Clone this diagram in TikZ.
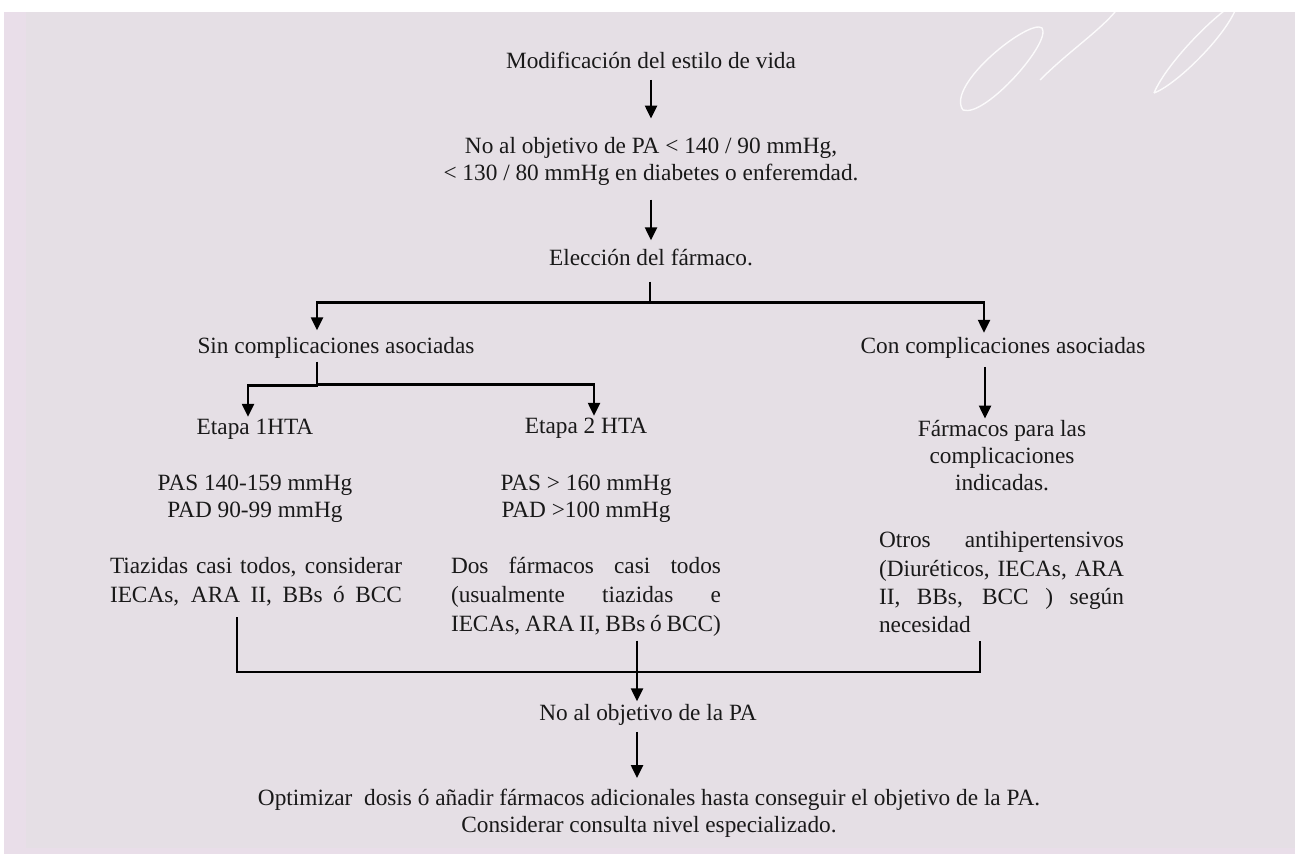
\documentclass[tikz,border=0pt]{standalone}
\usepackage{fontspec}
\setmainfont{Liberation Serif}
\usetikzlibrary{arrows.meta}
\definecolor{bgc}{RGB}{229,223,229}
\definecolor{bgp}{RGB}{233,222,233}
\definecolor{ink}{RGB}{25,25,25}
\newcommand\tkfa{\fontsize{23.3}{27.5}\selectfont}
\newcommand\tkfc{\fontsize{23.3}{27}\selectfont}
\newcommand\tkfb{\fontsize{23.3}{29}\selectfont}
\newcommand\tkfd{\fontsize{23.3}{28.3}\selectfont}
\begin{document}
\begin{tikzpicture}[x=1pt,y=-1pt,
  txt/.style={inner sep=0pt, outer sep=0pt, text=ink, align=center, font=\tkfa},
  txtc/.style={txt, font=\tkfc},
  blk/.style={inner sep=0pt, outer sep=0pt, text=ink, align=left, font=\tkfb},
  blkd/.style={blk, font=\tkfd},
  ln/.style={line width=2.5pt, draw=black, line join=miter},
  arr/.style={ln, -{Triangle[length=13pt,width=12pt]}},
  flour/.style={draw=white, line width=1.4pt, opacity=0.85}]
\useasboundingbox (0,0) rectangle (1302,854);
\fill[white] (0,0) rectangle (1302,854);
\fill[bgc] (4,12) rectangle (1295,854);
\fill[bgp] (4,12) rectangle (26,854);
\fill[bgp] (4,848) rectangle (1295,854);
% decorative flourish
\draw[flour] (963,110) .. controls (945,85) and (1030,18) .. (1042,28) .. controls (1052,42) and (985,118) .. (963,110);
\draw[flour] (1040,80) .. controls (1068,52) and (1098,32) .. (1115,12);
\draw[flour] (1154,93) .. controls (1168,60) and (1222,8) .. (1238,2) .. controls (1232,30) and (1178,84) .. (1154,93);

% nodes
\node[txt] (mod) at (651,63) {\strut Modificación del estilo de vida};
\node[txtc] (noobj) at (651,161.5) {\strut No al objetivo de PA < 140 / 90 mmHg,\\\strut < 130 / 80 mmHg en diabetes o enferemdad.};
\node[txt] (elec) at (651,260) {\strut Elección del fármaco.};
\node[txt] (sin) at (336,348) {\strut Sin complicaciones asociadas};
\node[txt] (con) at (1003,348) {\strut Con complicaciones asociadas};
\node[txt] (e1) at (255,429) {\strut Etapa 1HTA};
\node[txt] (e2) at (586,428) {\strut Etapa 2 HTA};
\node[txtc] (farm) at (1002,458) {\strut Fármacos para las\\\strut complicaciones\\\strut indicadas.};
\node[txtc] (pas1) at (255,498.5) {\strut PAS 140-159 mmHg\\\strut PAD 90-99 mmHg};
\node[txtc] (pas2) at (586,498.5) {\strut PAS > 160 mmHg\\\strut PAD >100 mmHg};
\node[blk] (tia) at (256,582) {\makebox[292pt][s]{\strut Tiazidas casi todos, considerar}\\\makebox[292pt][s]{\strut IECAs, ARA II, BBs ó BCC}};
\node[blk] (dos) at (586,597) {\makebox[270pt][s]{\strut Dos fármacos casi todos}\\\makebox[270pt][s]{\strut (usualmente tiazidas e}\\\makebox[270pt][s]{\strut IECAs, ARA II, BBs ó BCC)}};
\node[blkd] (otros) at (1001.5,584.5) {\makebox[245pt][s]{\strut Otros antihipertensivos}\\\makebox[245pt][s]{\strut (Diuréticos, IECAs, ARA}\\\makebox[245pt][s]{\strut II, BBs, BCC ) según}\\\makebox[245pt][l]{\strut necesidad}};
\node[txt] (noobjpa) at (648,715) {\strut No al objetivo de la PA};
\node[txtc] (opt) at (649,813.5) {\strut Optimizar\ \ dosis ó añadir fármacos adicionales hasta conseguir el objetivo de la PA.\\\strut Considerar consulta nivel especializado.};
\coordinate (join) at (637,672);

% connectors
\draw[arr] ([yshift=-3pt]mod.south) -- ([yshift=16pt]noobj.north);
\draw[arr] ([yshift=-11pt]noobj.south) -- ([yshift=6pt]elec.north);
\draw[arr] ([xshift=-1pt,yshift=-8pt]elec.south) |- ([xshift=-19pt,yshift=32pt]sin.north) -- ([xshift=-19pt,yshift=4pt]sin.north);
\draw[arr] ([xshift=-1pt,yshift=-8pt]elec.south) |- ([xshift=-19pt,yshift=32pt]con.north) -- ([xshift=-19pt,yshift=1.5pt]con.north);
\draw[arr] ([xshift=-19pt]sin.south) |- ([xshift=-7pt,yshift=30pt]e1.north) -- ([xshift=-7pt,yshift=-1.5pt]e1.north);
\draw[arr] ([xshift=-19pt]sin.south) |- ([xshift=8pt,yshift=30pt]e2.north) -- ([xshift=8pt,yshift=-1.5pt]e2.north);
\draw[arr] ([xshift=-18pt,yshift=-5pt]con.south) -- ([xshift=-17pt,yshift=-1pt]farm.north);
\draw[ln] ([xshift=-19pt,yshift=-6pt]tia.south) |- (join) -| ([xshift=-21.5pt]otros.south);
\draw[arr] ([xshift=51pt]dos.south) -- ([xshift=-11pt]noobjpa.north);
\draw[arr] ([xshift=-11pt,yshift=-3pt]noobjpa.south) -- ([xshift=-12pt,yshift=8.5pt]opt.north);
\end{tikzpicture}
\end{document}
